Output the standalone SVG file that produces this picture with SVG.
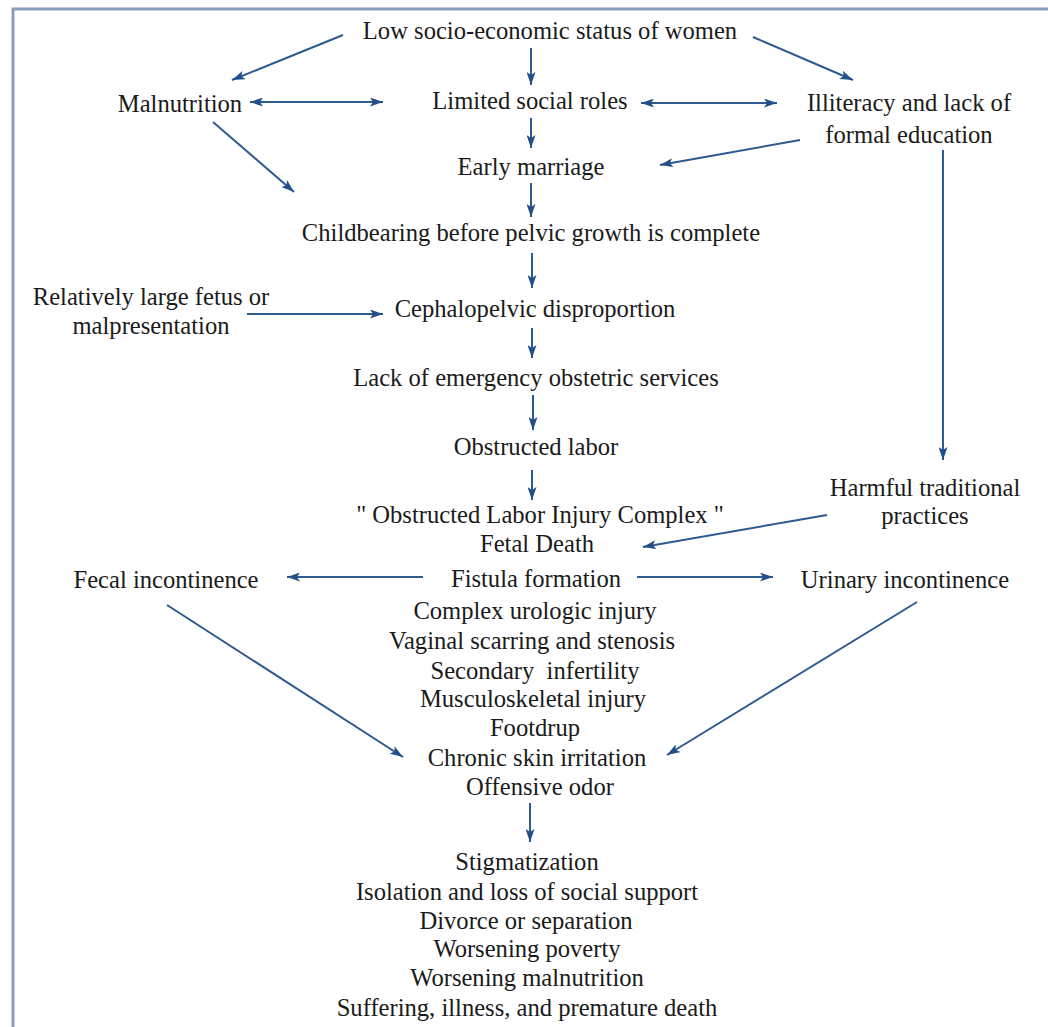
<svg xmlns="http://www.w3.org/2000/svg" width="1048" height="1027" viewBox="0 0 1048 1027">
<defs>
<marker id="ah" viewBox="0 0 13 9" refX="13" refY="4.5" markerWidth="13" markerHeight="9" markerUnits="userSpaceOnUse" orient="auto-start-reverse">
<path d="M0,0 L13,4.5 L0,9 L3,4.5 Z" fill="#234f88"/>
</marker>
<style>
text{font-family:"Liberation Serif","Times New Roman",serif;font-size:24.6px;fill:#1a1a1a;text-anchor:middle}
.c line{stroke:#2d5a90;stroke-width:2;fill:none;marker-end:url(#ah)}
.c line.d{marker-start:url(#ah)}
.frame{stroke:#8a9dba;stroke-width:3;fill:none}
</style>
</defs>
<rect width="1048" height="1027" fill="#ffffff"/>
<path class="frame" d="M13,1027 L13,9 L1048,9"/>
<g class="c" id="connectors">
<line x1="343" y1="35" x2="232" y2="80"/>
<line x1="531" y1="48" x2="531" y2="85"/>
<line x1="753" y1="37" x2="853" y2="80"/>
<line class="d" x1="250" y1="102" x2="383" y2="102"/>
<line class="d" x1="641" y1="103" x2="777" y2="103"/>
<line x1="531" y1="118" x2="531" y2="148"/>
<line x1="800" y1="140" x2="660" y2="165"/>
<line x1="213" y1="122" x2="294" y2="192"/>
<line x1="531" y1="183" x2="531" y2="217"/>
<line x1="943" y1="150" x2="943" y2="460"/>
<line x1="532" y1="253" x2="532" y2="288"/>
<line x1="247" y1="314" x2="383" y2="314"/>
<line x1="532" y1="328" x2="532" y2="358"/>
<line x1="533" y1="395" x2="533" y2="430"/>
<line x1="532" y1="470" x2="532" y2="500"/>
<line x1="827" y1="515" x2="643" y2="547"/>
<line x1="423" y1="577" x2="287" y2="577"/>
<line x1="637" y1="577" x2="773" y2="577"/>
<line x1="167" y1="605" x2="403" y2="757"/>
<line x1="917" y1="602" x2="667" y2="755"/>
<line x1="530" y1="803" x2="530" y2="842"/>
</g>
<g id="low"><text x="550" y="39">Low socio-economic status of women</text></g>
<g id="malnutrition"><text x="180" y="112">Malnutrition</text></g>
<g id="limited"><text x="530" y="109">Limited social roles</text></g>
<g id="illiteracy"><text x="909" y="111">Illiteracy and lack of</text><text x="909" y="143">formal education</text></g>
<g id="early"><text x="531" y="175">Early marriage</text></g>
<g id="childbearing"><text x="531" y="241">Childbearing before pelvic growth is complete</text></g>
<g id="fetus"><text x="151" y="305">Relatively large fetus or</text><text x="151" y="334">malpresentation</text></g>
<g id="cephalo"><text x="535" y="317">Cephalopelvic disproportion</text></g>
<g id="lack"><text x="536" y="386">Lack of emergency obstetric services</text></g>
<g id="obstructed"><text x="536" y="455">Obstructed labor</text></g>
<g id="harmful"><text x="925" y="496">Harmful traditional</text><text x="925" y="524">practices</text></g>
<g id="complex">
<text x="540" y="523">" Obstructed Labor Injury Complex "</text>
<text x="537" y="552">Fetal Death</text>
<text x="536" y="587">Fistula formation</text>
<text x="535" y="619">Complex urologic injury</text>
<text x="532" y="649">Vaginal scarring and stenosis</text>
<text x="535" y="679" style="white-space:pre">Secondary  infertility</text>
<text x="533" y="707">Musculoskeletal injury</text>
<text x="535" y="736">Footdrup</text>
<text x="537" y="766">Chronic skin irritation</text>
<text x="540" y="795">Offensive odor</text>
</g>
<g id="fecal"><text x="166" y="588">Fecal incontinence</text></g>
<g id="urinary"><text x="905" y="588">Urinary incontinence</text></g>
<g id="social">
<text x="527" y="870">Stigmatization</text>
<text x="527" y="900">Isolation and loss of social support</text>
<text x="526" y="929">Divorce or separation</text>
<text x="527" y="957">Worsening poverty</text>
<text x="527" y="986">Worsening malnutrition</text>
<text x="527" y="1016">Suffering, illness, and premature death</text>
</g>
</svg>
